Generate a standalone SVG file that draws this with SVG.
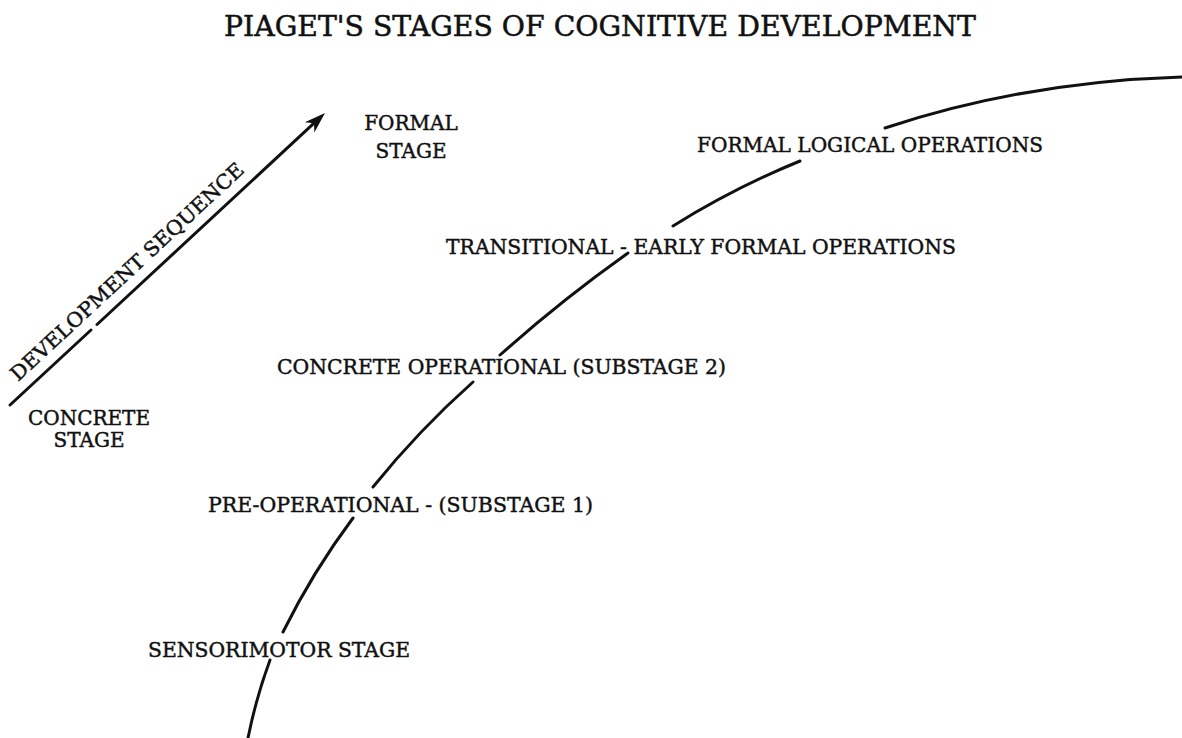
<svg xmlns="http://www.w3.org/2000/svg" width="1182" height="738" viewBox="0 0 1182 738">
  <style>
    .lbl { font-family: "DejaVu Serif", "Liberation Serif", serif; font-size: 20px; fill: #111; stroke: #111; stroke-width: 0.45; }
    .title { font-family: "DejaVu Serif", "Liberation Serif", serif; font-size: 27px; fill: #111; stroke: #111; stroke-width: 0.5; }
    .ink { fill: none; stroke: #111; stroke-width: 3; stroke-linecap: round; }
  </style>
  <defs>
    <marker id="barb" viewBox="-22 -8 24 16" refX="-15" refY="0" markerWidth="24" markerHeight="16" orient="auto" markerUnits="userSpaceOnUse">
      <path d="M0,0 L-21,-7 L-15,0 L-21,7 Z" fill="#111"/>
    </marker>
  </defs>
  <rect width="1182" height="738" fill="#fff"/>

  <text id="title" class="title" x="224" y="36" textLength="752" lengthAdjust="spacingAndGlyphs">PIAGET'S STAGES OF COGNITIVE DEVELOPMENT</text>

  <g id="connectors">
    <!-- development sequence arrow, with a small break in the shaft -->
    <path class="ink" d="M10,405 L91,330"/>
    <path class="ink" d="M97,324.5 L314,123.2" marker-end="url(#barb)"/>
    <!-- stage curve, interrupted where each stage label sits -->
    <path class="ink" d="M248,738 Q256,698 270,660
                         M283,632 Q312.8,571.8 353,518
                         M373,487 Q418.7,430.3 473,382
                         M500,355 Q561.4,300.2 628,253
                         M673,226 Q733.7,188.1 800,161
                         M885,128 C984,95 1083,80 1182,77"/>
  </g>

  <g id="sequence-label">
    <text class="lbl" transform="translate(18,382) rotate(-42.8)" x="0" y="0" textLength="310" lengthAdjust="spacingAndGlyphs">DEVELOPMENT SEQUENCE</text>
  </g>
  <g id="formal-stage">
    <text class="lbl" x="411" y="130" text-anchor="middle">FORMAL</text>
    <text class="lbl" x="411" y="158" text-anchor="middle">STAGE</text>
  </g>
  <g id="concrete-stage">
    <text class="lbl" x="89" y="425" text-anchor="middle">CONCRETE</text>
    <text class="lbl" x="89" y="447" text-anchor="middle">STAGE</text>
  </g>
  <g id="sensorimotor">
    <text class="lbl" x="148" y="657" textLength="262" lengthAdjust="spacingAndGlyphs">SENSORIMOTOR STAGE</text>
  </g>
  <g id="pre-operational">
    <text class="lbl" x="208" y="512" textLength="385" lengthAdjust="spacingAndGlyphs">PRE-OPERATIONAL - (SUBSTAGE 1)</text>
  </g>
  <g id="concrete-operational">
    <text class="lbl" x="277" y="374" textLength="449" lengthAdjust="spacingAndGlyphs">CONCRETE OPERATIONAL (SUBSTAGE 2)</text>
  </g>
  <g id="transitional">
    <text class="lbl" x="446" y="254" textLength="510" lengthAdjust="spacingAndGlyphs">TRANSITIONAL - EARLY FORMAL OPERATIONS</text>
  </g>
  <g id="formal-logical">
    <text class="lbl" x="697" y="152" textLength="346" lengthAdjust="spacingAndGlyphs">FORMAL LOGICAL OPERATIONS</text>
  </g>
</svg>
